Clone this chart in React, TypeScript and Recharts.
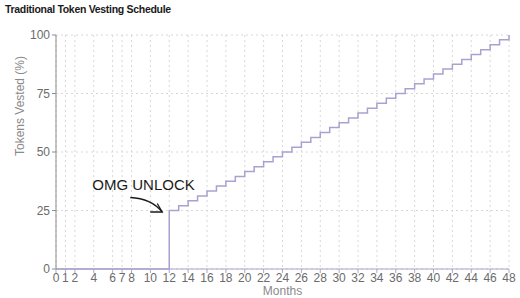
import { CartesianGrid, Line, LineChart, ReferenceDot, XAxis, YAxis } from "recharts";

// months 0..48
const months = [
  0, 1, 2, 3, 4, 5, 6, 7, 8, 9, 10, 11, 12, 13, 14, 15, 16, 17, 18, 19, 20, 21, 22, 23, 24,
  25, 26, 27, 28, 29, 30, 31, 32, 33, 34, 35, 36, 37, 38, 39, 40, 41, 42, 43, 44, 45, 46, 47, 48,
];
// % vested at each month (nothing before the cliff, then monthly steps)
const vested = [
  0, 0, 0, 0, 0, 0, 0, 0, 0, 0, 0, 0,
  25, 27.08, 29.17, 31.25, 33.33, 35.42, 37.5, 39.58, 41.67, 43.75, 45.83, 47.92,
  50, 52.08, 54.17, 56.25, 58.33, 60.42, 62.5, 64.58, 66.67, 68.75, 70.83, 72.92,
  75, 77.08, 79.17, 81.25, 83.33, 85.42, 87.5, 89.58, 91.67, 93.75, 95.83, 97.92, 100,
];
const xTicks = [0, 1, 2, 4, 6, 7, 8, 10, 12, 14, 16, 18, 20, 22, 24, 26, 28, 30, 32, 34, 36, 38, 40, 42, 44, 46, 48];
const yTicks = [0, 25, 50, 75, 100];

const data = months.map((m, i) => ({ month: m, pct: vested[i] }));

const FONT = "'Liberation Sans', Arial, sans-serif";
const tickStyle = { fill: "#6b6b6b", fontSize: 12, fontFamily: FONT };

function UnlockNote({ cx, cy }: any) {
  if (cx == null || cy == null) return null;
  const tipX = cx - 7;
  const tipY = cy + 1.5;
  return (
    <g>
      <text x={cx - 77} y={cy - 21} fontSize={15} fontFamily={FONT} fill="#1a1a1a">
        OMG UNLOCK
      </text>
      <path
        d={`M${cx - 39},${cy - 13} Q${cx - 18},${cy - 12} ${tipX},${tipY}`}
        fill="none"
        stroke="#1a1a1a"
        strokeWidth={1.3}
      />
      <path
        d={`M${cx - 12},${cy - 7} L${tipX},${tipY} L${cx - 19},${cy + 1.5}`}
        fill="none"
        stroke="#1a1a1a"
        strokeWidth={1.3}
      />
    </g>
  );
}

function YLabel({ viewBox }: any) {
  const x = viewBox.x + 20;
  const y = viewBox.y + 71;
  return (
    <text
      x={x}
      y={y}
      transform={`rotate(-90, ${x}, ${y})`}
      textAnchor="middle"
      dominantBaseline="central"
      fontSize={12}
      fontFamily={FONT}
      fill="#8a8a8a"
    >
      Tokens Vested (%)
    </text>
  );
}

function XLabel({ viewBox }: any) {
  return (
    <text
      x={viewBox.x + viewBox.width / 2}
      y={viewBox.y + 26}
      textAnchor="middle"
      fontSize={12}
      fontFamily={FONT}
      fill="#8a8a8a"
    >
      Months
    </text>
  );
}

export default function App() {
  return (
    <div style={{ position: "fixed", left: 0, top: 0, width: 520, height: 298, background: "#fff" }}>
      <div
        style={{
          position: "absolute",
          left: 5,
          top: 3,
          fontFamily: FONT,
          fontWeight: 700,
          fontSize: 10.5,
          letterSpacing: -0.3,
          color: "#1a1a1a",
        }}
      >
        Traditional Token Vesting Schedule
      </div>
      <LineChart width={520} height={298} data={data} margin={{ top: 35, right: 11, bottom: 0, left: 0 }}>
        <CartesianGrid stroke="#d8d8d8" strokeDasharray="2 3" />
        <XAxis
          dataKey="month"
          type="number"
          domain={[0, 48]}
          ticks={xTicks}
          interval={0}
          height={29}
          tick={tickStyle}
          tickSize={4}
          tickMargin={0}
          axisLine={{ stroke: "#a9a5cc" }}
          tickLine={{ stroke: "#a9a5cc" }}
          label={<XLabel />}
        />
        <YAxis
          type="number"
          domain={[0, 100]}
          ticks={yTicks}
          width={56}
          tick={tickStyle}
          tickSize={4}
          tickMargin={2}
          axisLine={{ stroke: "#8c8c8c" }}
          tickLine={{ stroke: "#8c8c8c" }}
          label={<YLabel />}
        />
        <Line
          type="stepAfter"
          dataKey="pct"
          stroke="#a8a2d0"
          strokeWidth={1.5}
          dot={false}
          isAnimationActive={false}
        />
        <ReferenceDot x={12} y={25} shape={<UnlockNote />} />
      </LineChart>
    </div>
  );
}
